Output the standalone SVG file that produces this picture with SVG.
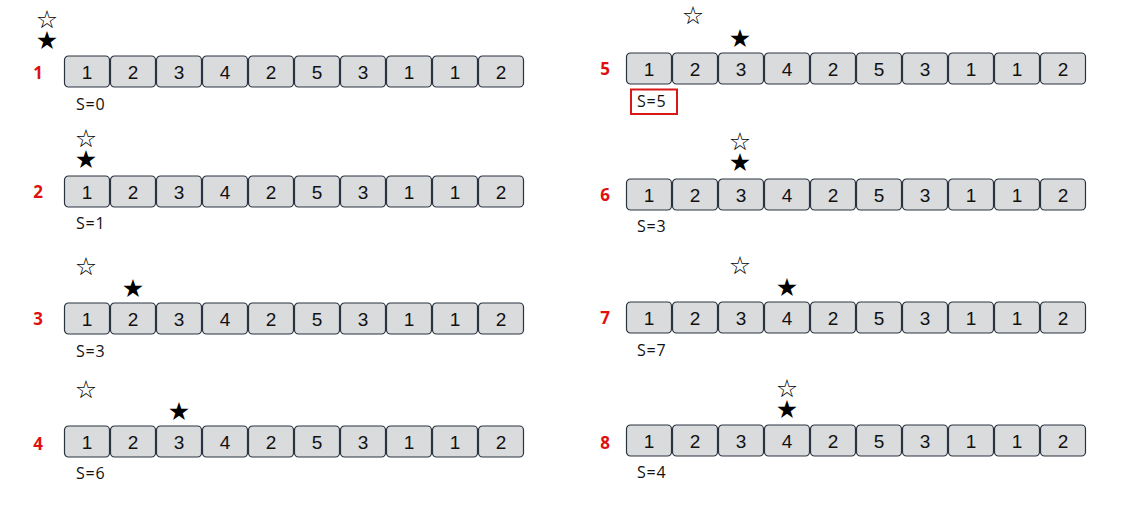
<svg xmlns="http://www.w3.org/2000/svg" width="1144" height="528" viewBox="0 0 1144 528">
<defs>
<style>
.c{fill:#dadbdd;stroke:#2a3340;stroke-width:1.2}
.n{font-family:"Liberation Sans",Arial,sans-serif;font-size:19px;fill:#111;text-anchor:middle;dominant-baseline:central}
.lb{font-family:"Open Sans","Liberation Sans",sans-serif;font-size:17px;font-weight:bold;fill:#e01010;text-anchor:middle;dominant-baseline:central}
.s{font-family:"Open Sans","Liberation Sans",sans-serif;font-size:16px;fill:#111;letter-spacing:0.8px}
.st{font-family:"DejaVu Sans",sans-serif;font-size:25px;fill:#000;text-anchor:middle;dominant-baseline:central}
</style>
<g id="cells">
<rect class="c" x="0.5" y="0" width="45" height="31" rx="4"/>
<rect class="c" x="46.5" y="0" width="45" height="31" rx="4"/>
<rect class="c" x="92.5" y="0" width="45" height="31" rx="4"/>
<rect class="c" x="138.5" y="0" width="45" height="31" rx="4"/>
<rect class="c" x="184.5" y="0" width="45" height="31" rx="4"/>
<rect class="c" x="230.5" y="0" width="45" height="31" rx="4"/>
<rect class="c" x="276.5" y="0" width="45" height="31" rx="4"/>
<rect class="c" x="322.5" y="0" width="45" height="31" rx="4"/>
<rect class="c" x="368.5" y="0" width="45" height="31" rx="4"/>
<rect class="c" x="414.5" y="0" width="45" height="31" rx="4"/>
<text class="n" x="23" y="16">1</text>
<text class="n" x="69" y="16">2</text>
<text class="n" x="115" y="16">3</text>
<text class="n" x="161" y="16">4</text>
<text class="n" x="207" y="16">2</text>
<text class="n" x="253" y="16">5</text>
<text class="n" x="299" y="16">3</text>
<text class="n" x="345" y="16">1</text>
<text class="n" x="391" y="16">1</text>
<text class="n" x="437" y="16">2</text>
</g>
</defs>
<rect width="1144" height="528" fill="#fff"/>

<g id="step1">
<text class="lb" x="38" y="72">1</text>
<use href="#cells" x="64" y="56"/>
<text class="st" x="47" y="19">☆</text>
<text class="st" x="47" y="40">★</text>
<text class="s" x="76" y="110">S=0</text>
</g>
<g id="step2">
<text class="lb" x="38" y="191">2</text>
<use href="#cells" x="64" y="176"/>
<text class="st" x="86" y="138">☆</text>
<text class="st" x="86" y="159">★</text>
<text class="s" x="76" y="229">S=1</text>
</g>
<g id="step3">
<text class="lb" x="38" y="318">3</text>
<use href="#cells" x="64" y="303"/>
<text class="st" x="86" y="266">☆</text>
<text class="st" x="133" y="288">★</text>
<text class="s" x="76" y="357">S=3</text>
</g>
<g id="step4">
<text class="lb" x="38" y="443">4</text>
<use href="#cells" x="64" y="426"/>
<text class="st" x="86" y="389">☆</text>
<text class="st" x="179" y="411">★</text>
<text class="s" x="76" y="479">S=6</text>
</g>

<g id="step5">
<text class="lb" x="605" y="68">5</text>
<use href="#cells" x="626" y="53"/>
<text class="st" x="693" y="15">☆</text>
<text class="st" x="740" y="38">★</text>
<rect x="631" y="89.5" width="46" height="24.5" fill="none" stroke="#d81818" stroke-width="2"/>
<text class="s" x="637" y="107">S=5</text>
</g>
<g id="step6">
<text class="lb" x="605" y="194">6</text>
<use href="#cells" x="626" y="179"/>
<text class="st" x="740" y="141">☆</text>
<text class="st" x="740" y="162">★</text>
<text class="s" x="637" y="232">S=3</text>
</g>
<g id="step7">
<text class="lb" x="605" y="317">7</text>
<use href="#cells" x="626" y="302"/>
<text class="st" x="740" y="265">☆</text>
<text class="st" x="787" y="287">★</text>
<text class="s" x="637" y="356">S=7</text>
</g>
<g id="step8">
<text class="lb" x="605" y="442">8</text>
<use href="#cells" x="626" y="425"/>
<text class="st" x="787" y="388">☆</text>
<text class="st" x="787" y="409">★</text>
<text class="s" x="637" y="478">S=4</text>
</g>
</svg>
